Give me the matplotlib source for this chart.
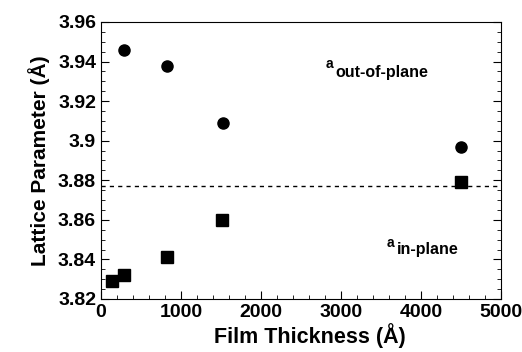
import matplotlib
matplotlib.use("Agg")
import matplotlib.pyplot as plt
from matplotlib.ticker import MultipleLocator

plt.rcParams['font.family'] = ['Liberation Sans', 'DejaVu Sans']
plt.rcParams['font.weight'] = 'bold'

# out-of-plane lattice parameter (circles)
out_thickness = [290, 830, 1520, 4500]
out_lattice = [3.946, 3.938, 3.909, 3.897]

# in-plane lattice parameter (squares)
in_thickness = [140, 290, 830, 1510, 4500]
in_lattice = [3.829, 3.832, 3.841, 3.860, 3.879]

bulk_lattice = 3.877

fig = plt.figure(figsize=(5.22, 3.52), dpi=100)
ax = fig.add_axes([101 / 522, 1 - 299 / 352, 400 / 522, 277 / 352])

ax.plot(out_thickness, out_lattice, 'o', color='black', markersize=8)
ax.plot(in_thickness, in_lattice, 's', color='black', markersize=8.5)
ax.axhline(bulk_lattice, color='black', linestyle=(0, (3, 3)), linewidth=1)

ax.set_xlim(0, 5000)
ax.set_ylim(3.82, 3.96)
ax.xaxis.set_major_locator(MultipleLocator(1000))
ax.xaxis.set_minor_locator(MultipleLocator(200))
ax.yaxis.set_major_locator(MultipleLocator(0.02))
ax.yaxis.set_minor_locator(MultipleLocator(0.005))
ax.yaxis.set_major_formatter(plt.FuncFormatter(lambda v, _: f"{v:.2f}".rstrip('0')))
ax.tick_params(which='both', direction='in', top=False, right=True, labelsize=14)
ax.tick_params(which='major', length=6)
ax.tick_params(which='minor', length=3)

ax.set_xlabel("Film Thickness (Å)", fontsize=15.5, fontweight='bold', labelpad=0)
ax.xaxis.set_label_coords(0.522, -0.085)
ax.set_ylabel("Lattice Parameter (Å)", fontsize=15, fontweight='bold', labelpad=6)

# labels: small raised "a" followed by subscript text
ax.text(2812, 3.9367, "a", fontsize=10, fontweight='bold', va='baseline')
ax.text(2925, 3.9322, "out-of-plane", fontsize=11.5, fontweight='bold', va='baseline')
ax.text(3575, 3.8463, "a", fontsize=10, fontweight='bold', va='baseline')
ax.text(3700, 3.8427, "in-plane", fontsize=11.5, fontweight='bold', va='baseline')

fig.savefig("out.png", dpi=100)
